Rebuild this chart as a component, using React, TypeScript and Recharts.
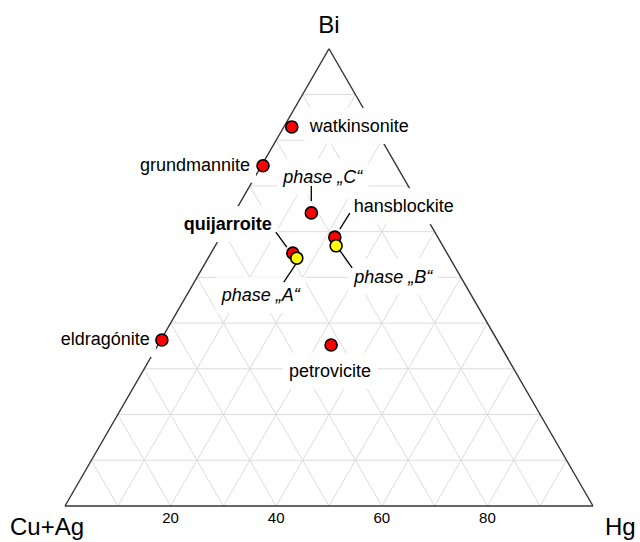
import { ComposedChart, Line, Scatter, XAxis, YAxis } from "recharts"

const SQ3 = Math.sqrt(3) / 2
const FONT = "'Liberation Sans', Arial, Helvetica, sans-serif"
const LABEL_SIZE = 18

// compositions in at.% (Cu+Ag = 100 - Bi - Hg)
const mineralNames = ["watkinsonite", "grundmannite", "phase „C“", "hansblockite", "quijarroite", "eldragónite", "petrovicite"]
const mineralBi = [82.9, 74.4, 64.1, 58.8, 55.3, 36.3, 35.2]
const mineralHg = [1.5, 0.3, 14.6, 21.7, 15.5, 0.2, 32.8]

const phaseNames = ["phase „A“", "phase „B“"]
const phaseBi = [54.2, 56.9]
const phaseHg = [16.8, 22.9]

const cornerNames = ["Cu+Ag", "Hg", "Bi"]
const gridSteps = [10, 20, 30, 40, 50, 60, 70, 80, 90]
const tickValues = [20, 40, 60, 80]

// ternary -> cartesian (Cu+Ag left, Hg right, Bi top)
const toXY = (bi: number, hg: number) => ({ x: hg / 100 + bi / 200, y: (bi / 100) * SQ3 })

const mineralData = mineralNames.map((name, i) => ({ name, ...toXY(mineralBi[i], mineralHg[i]) }))
const phaseData = phaseNames.map((name, i) => ({ name, ...toXY(phaseBi[i], phaseHg[i]) }))
const allPoints = [...mineralData, ...phaseData]

const cornerData = [
  { name: cornerNames[0], ...toXY(0, 0) },
  { name: cornerNames[1], ...toXY(0, 100) },
  { name: cornerNames[2], ...toXY(100, 0) },
]
const tickData = tickValues.map((v) => ({ name: String(v), ...toXY(0, v) }))

const gridLines = gridSteps.flatMap((f) => [
  [toXY(f, 0), toXY(f, 100 - f)],
  [toXY(0, f), toXY(100 - f, f)],
  [toXY(0, 100 - f), toXY(100 - f, 0)],
])
const edges = [
  [toXY(0, 0), toXY(0, 100)],
  [toXY(0, 100), toXY(100, 0)],
  [toXY(100, 0), toXY(0, 0)],
]

// label placement, px relative to the point
type Lbl = { anchor: "start" | "end" | "middle"; dx: number; dy: number; lead?: number[]; bold?: boolean; italic?: boolean }
const labelLayout: Record<string, Lbl> = {
  watkinsonite: { anchor: "start", dx: 18, dy: 5 },
  grundmannite: { anchor: "end", dx: -13, dy: 5 },
  "phase „C“": { anchor: "start", dx: -28, dy: -30, lead: [0, -27, 0, -12], italic: true },
  hansblockite: { anchor: "start", dx: 19, dy: -25, lead: [15, -24, 5, -8] },
  quijarroite: { anchor: "end", dx: -21, dy: -23, lead: [-17, -21, -6, -6], bold: true },
  "eldragónite": { anchor: "end", dx: -12, dy: 5 },
  petrovicite: { anchor: "middle", dx: -1, dy: 32 },
  "phase „A“": { anchor: "end", dx: 3, dy: 43, lead: [-1, 6, -13, 24], italic: true },
  "phase „B“": { anchor: "start", dx: 18, dy: 37, lead: [4, 5, 16, 22], italic: true },
}

let ctx: CanvasRenderingContext2D | null = null
const textWidth = (text: string, l: Lbl) => {
  if (!ctx) ctx = document.createElement("canvas").getContext("2d")
  if (!ctx) return text.length * 8
  ctx.font = `${l.italic ? "italic " : ""}${l.bold ? "bold " : ""}${LABEL_SIZE}px ${FONT}`
  return ctx.measureText(text).width
}

const LabelBox = (props: any) => {
  const { cx, cy, payload } = props
  const l = labelLayout[payload.name]
  const w = textWidth(payload.name, l)
  const x0 = l.anchor === "start" ? cx + l.dx : l.anchor === "end" ? cx + l.dx - w : cx + l.dx - w / 2
  return <rect x={x0 - 6} y={cy + l.dy - 24} width={w + 12} height={36} fill="#fff" />
}

const LabelText = (props: any) => {
  const { cx, cy, payload } = props
  const l = labelLayout[payload.name]
  return (
    <g>
      {l.lead && (
        <line x1={cx + l.lead[0]} y1={cy + l.lead[1]} x2={cx + l.lead[2]} y2={cy + l.lead[3]} stroke="#000" strokeWidth={1.3} />
      )}
      <text
        x={cx + l.dx}
        y={cy + l.dy}
        textAnchor={l.anchor}
        fontFamily={FONT}
        fontSize={LABEL_SIZE}
        fontWeight={l.bold ? "bold" : "normal"}
        fontStyle={l.italic ? "italic" : "normal"}
        fill="#000"
      >
        {payload.name}
      </text>
    </g>
  )
}

const cornerOffsets: Record<string, number[]> = { "Cu+Ag": [-55, 29], Hg: [12, 29], Bi: [0, -16] }

const CornerText = (props: any) => {
  const { cx, cy, payload } = props
  const [dx, dy] = cornerOffsets[payload.name]
  return (
    <text x={cx + dx} y={cy + dy} textAnchor={payload.name === "Bi" ? "middle" : "start"} fontFamily={FONT} fontSize={24} fill="#000">
      {payload.name}
    </text>
  )
}

const TickText = (props: any) => (
  <text x={props.cx} y={props.cy + 17} textAnchor="middle" fontFamily={FONT} fontSize={15} fill="#000">
    {props.payload.name}
  </text>
)

const Dot = (fill: string) => (props: any) => <circle cx={props.cx} cy={props.cy} r={6} fill={fill} stroke="#000" strokeWidth={1.6} />

export default function App() {
  return (
    <div style={{ position: "absolute", left: 0, top: 0, background: "#fff" }}>
      <ComposedChart width={640} height={542} margin={{ top: 0, right: 0, bottom: 0, left: 0 }}>
        <XAxis type="number" dataKey="x" hide domain={[-65 / 528, 575 / 528]} allowDataOverflow />
        <YAxis type="number" dataKey="y" hide domain={[-36 / 528, 506 / 528]} allowDataOverflow />
        {gridLines.map((seg, i) => (
          <Line key={"g" + i} data={seg} dataKey="y" stroke="#dcdcdc" strokeWidth={1} dot={false} activeDot={false} isAnimationActive={false} />
        ))}
        {edges.map((seg, i) => (
          <Line key={"e" + i} data={seg} dataKey="y" stroke="#333" strokeWidth={1.4} dot={false} activeDot={false} isAnimationActive={false} />
        ))}
        <Scatter data={allPoints} shape={LabelBox} isAnimationActive={false} />
        <Scatter data={allPoints} shape={LabelText} isAnimationActive={false} />
        <Scatter data={cornerData} shape={CornerText} isAnimationActive={false} />
        <Scatter data={tickData} shape={TickText} isAnimationActive={false} />
        <Scatter data={mineralData} shape={Dot("#ff0000")} isAnimationActive={false} />
        <Scatter data={phaseData} shape={Dot("#ffff00")} isAnimationActive={false} />
      </ComposedChart>
    </div>
  )
}
